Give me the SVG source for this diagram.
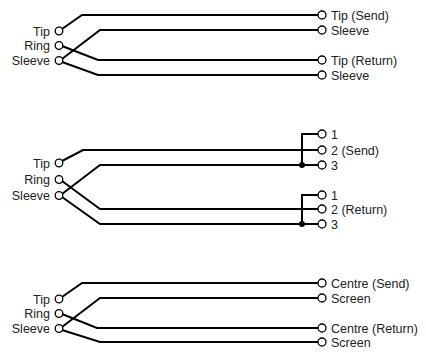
<svg xmlns="http://www.w3.org/2000/svg" width="426" height="353" viewBox="0 0 426 353">
<style>
.w{fill:none;stroke:#000;stroke-width:2;stroke-linejoin:miter}
.c{fill:#fff;stroke:#000;stroke-width:1.3}
.t{font-family:"Liberation Sans",Arial,sans-serif;font-size:12.5px;fill:#222}
.l{text-anchor:end}
.d{fill:#000}
</style>
<rect width="426" height="353" fill="#fff"/>
<g id="connectors">
<path class="w" d="M62,29 L82,15 L318,15"/>
<path class="w" d="M62,59 L100,30 L318,30"/>
<path class="w" d="M62,46 L98,60 L318,60"/>
<path class="w" d="M62,62 L98,75 L318,75"/>
<path class="w" d="M62,161 L83,150 L318,150"/>
<path class="w" d="M62,194 L100,165 L318,165"/>
<path class="w" d="M62,181 L100,209 L318,209"/>
<path class="w" d="M62,197 L100,224 L318,224"/>
<path class="w" d="M302,165 L302,134 L318,134"/>
<path class="w" d="M302,224 L302,195 L318,195"/>
<circle class="d" cx="302" cy="165" r="3"/>
<circle class="d" cx="302" cy="224" r="3"/>
<path class="w" d="M62,297 L82,283 L318,283"/>
<path class="w" d="M62,327 L100,298 L318,298"/>
<path class="w" d="M62,314 L97,328 L318,328"/>
<path class="w" d="M62,330 L100,342 L318,342"/>
</g>
<g id="jack1">
<circle class="c" cx="59" cy="31" r="3.8"/><text class="t l" x="50" y="35.5">Tip</text>
<circle class="c" cx="59" cy="45.5" r="3.8"/><text class="t l" x="50" y="50">Ring</text>
<circle class="c" cx="59" cy="60.5" r="3.8"/><text class="t l" x="50" y="65">Sleeve</text>
</g>
<g id="out1">
<circle class="c" cx="322" cy="15" r="4"/><text class="t" x="331" y="19.5">Tip (Send)</text>
<circle class="c" cx="322" cy="30" r="4"/><text class="t" x="331" y="34.5">Sleeve</text>
<circle class="c" cx="322" cy="60" r="4"/><text class="t" x="331" y="64.5">Tip (Return)</text>
<circle class="c" cx="322" cy="75" r="4"/><text class="t" x="331" y="79.5">Sleeve</text>
</g>
<g id="jack2">
<circle class="c" cx="59" cy="163" r="3.8"/><text class="t l" x="50" y="167.5">Tip</text>
<circle class="c" cx="59" cy="179.5" r="3.8"/><text class="t l" x="50" y="184">Ring</text>
<circle class="c" cx="59" cy="195.5" r="3.8"/><text class="t l" x="50" y="200">Sleeve</text>
</g>
<g id="out2">
<circle class="c" cx="322" cy="134" r="4"/><text class="t" x="331" y="138.5">1</text>
<circle class="c" cx="322" cy="150" r="4"/><text class="t" x="331" y="154.5">2 (Send)</text>
<circle class="c" cx="322" cy="165" r="4"/><text class="t" x="331" y="169.5">3</text>
<circle class="c" cx="322" cy="195" r="4"/><text class="t" x="331" y="199.5">1</text>
<circle class="c" cx="322" cy="209" r="4"/><text class="t" x="331" y="213.5">2 (Return)</text>
<circle class="c" cx="322" cy="224" r="4"/><text class="t" x="331" y="228.5">3</text>
</g>
<g id="jack3">
<circle class="c" cx="59" cy="299" r="3.8"/><text class="t l" x="50" y="303.5">Tip</text>
<circle class="c" cx="59" cy="313.5" r="3.8"/><text class="t l" x="50" y="318">Ring</text>
<circle class="c" cx="59" cy="328.5" r="3.8"/><text class="t l" x="50" y="333">Sleeve</text>
</g>
<g id="out3">
<circle class="c" cx="322" cy="283" r="4"/><text class="t" x="331" y="287.5">Centre (Send)</text>
<circle class="c" cx="322" cy="298" r="4"/><text class="t" x="331" y="302.5">Screen</text>
<circle class="c" cx="322" cy="328" r="4"/><text class="t" x="331" y="332.5">Centre (Return)</text>
<circle class="c" cx="322" cy="342" r="4"/><text class="t" x="331" y="346.5">Screen</text>
</g>
</svg>
